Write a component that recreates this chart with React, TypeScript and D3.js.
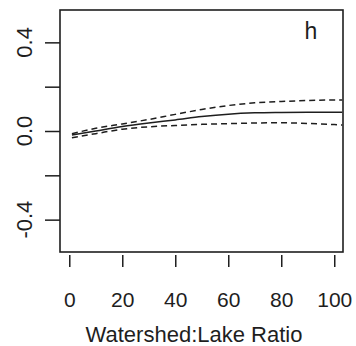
import React, { useRef, useEffect } from "react";
import * as d3 from "d3";

const ratio = [1, 10, 20, 30, 40, 50, 60, 70, 80, 90, 100, 103];
const fit = [-0.018, 0.0, 0.02, 0.036, 0.05, 0.065, 0.076, 0.082, 0.084, 0.085, 0.085, 0.085];
const upper = [-0.012, 0.012, 0.032, 0.052, 0.075, 0.097, 0.115, 0.127, 0.133, 0.138, 0.14, 0.14];
const lower = [-0.03, -0.012, 0.008, 0.019, 0.025, 0.03, 0.033, 0.036, 0.037, 0.034, 0.029, 0.027];
const xTicks = [0, 20, 40, 60, 80, 100];
const yTicks = [-0.4, -0.2, 0, 0.2, 0.4];
const yLabelled = [-0.4, 0, 0.4];

const App: React.FC = () => {
    const svgRef = useRef<SVGSVGElement | null>(null);

    useEffect(() => {
        if (!svgRef.current) return;

        const width = 356;
        const height = 346;
        const left = 60, right = 343, top = 10, bottom = 252;
        const ink = "#1e1e1e";

        const x = d3.scaleLinear().domain([-3.5, 103.3]).range([left, right]);
        const y = d3.scaleLinear().domain([-0.546, 0.546]).range([bottom, top]);

        const svg = d3.select(svgRef.current)
            .attr("width", width)
            .attr("height", height)
            .attr("viewBox", `0 0 ${width} ${height}`)
            .style("position", "absolute")
            .style("left", "0px")
            .style("top", "0px")
            .style("font-family", "'Liberation Sans', Arial, sans-serif");

        svg.selectAll("*").remove();

        svg.append("rect")
            .attr("width", width).attr("height", height).attr("fill", "#fff");

        // box
        svg.append("rect")
            .attr("x", left).attr("y", top)
            .attr("width", right - left).attr("height", bottom - top)
            .attr("fill", "none").attr("stroke", ink).attr("stroke-width", 1.6);

        // x axis: ticks only, a little below the box
        const xg = svg.append("g")
            .attr("transform", `translate(0,255)`)
            .call(d3.axisBottom(x).tickValues(xTicks).tickSize(12).tickPadding(25).tickFormat(d3.format("d")))
            .attr("font-size", 21)
            .attr("font-family", null);
        xg.select(".domain").remove();
        xg.selectAll("line").attr("stroke", ink).attr("stroke-width", 1.5);
        xg.selectAll("text").attr("fill", ink);

        // y axis
        const yg = svg.append("g")
            .attr("transform", `translate(${left},0)`)
            .call(d3.axisLeft(y).tickValues(yTicks).tickSize(15).tickFormat(() => ""));
        yg.select(".domain").remove();
        yg.selectAll("line").attr("stroke", ink).attr("stroke-width", 1.5);

        svg.append("g")
            .selectAll("text")
            .data(yLabelled)
            .join("text")
            .attr("transform", d => `translate(32,${y(d)}) rotate(-90)`)
            .attr("text-anchor", "middle")
            .attr("font-size", 22)
            .attr("fill", ink)
            .text(d => d3.format(".1f")(d).replace("−", "-"));

        // x label
        svg.append("text")
            .attr("x", 194).attr("y", 342)
            .attr("text-anchor", "middle")
            .attr("font-size", 22)
            .attr("fill", ink)
            .text("Watershed:Lake Ratio");

        // panel letter
        svg.append("text")
            .attr("x", 311).attr("y", 39)
            .attr("text-anchor", "middle")
            .attr("font-size", 23)
            .attr("fill", ink)
            .text("h");

        const line = d3.line<number>()
            .x((_, i) => x(ratio[i]))
            .y(d => y(d))
            .curve(d3.curveMonotoneX);

        svg.append("path")
            .attr("d", line(fit)!)
            .attr("fill", "none").attr("stroke", ink).attr("stroke-width", 1.5);

        svg.append("g")
            .selectAll("path")
            .data([upper, lower])
            .join("path")
            .attr("d", d => line(d)!)
            .attr("fill", "none")
            .attr("stroke", ink)
            .attr("stroke-width", 1.5)
            .attr("stroke-dasharray", "6,4");
    }, []);

    return <svg ref={svgRef} />;
};

export default App;
